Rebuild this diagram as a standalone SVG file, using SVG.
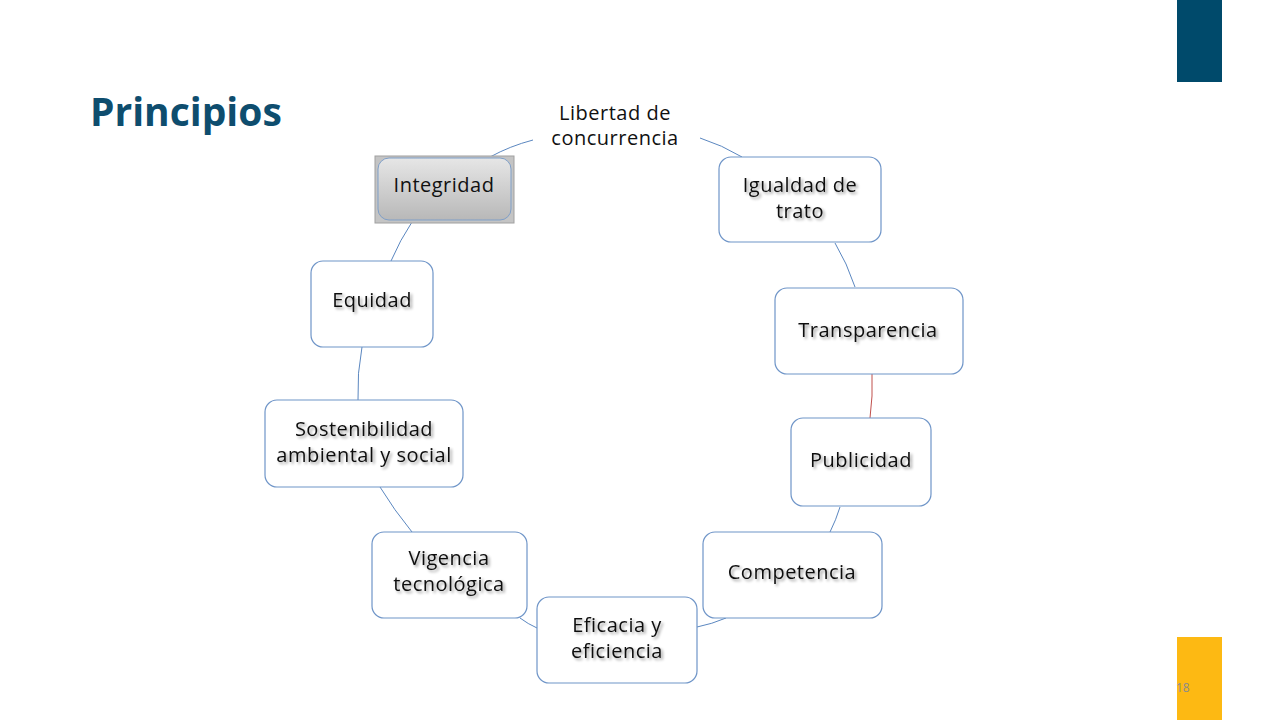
<svg xmlns="http://www.w3.org/2000/svg" width="1280" height="720" viewBox="0 0 1280 720">
<style>
.box{fill:#fff;stroke:#6F95C8;stroke-width:1.2}
.lbl{font-family:"Open Sans","Liberation Sans",sans-serif;font-size:20px;fill:#111;text-anchor:middle;letter-spacing:0.5px}
.sh{filter:url(#ts)}
.con{fill:none;stroke:#5B87C0;stroke-width:1}
</style>
<defs>
<filter id="ts" x="-20%" y="-40%" width="140%" height="180%">
<feGaussianBlur in="SourceAlpha" stdDeviation="1.4"/>
<feOffset dx="1.5" dy="2" result="b"/>
<feComponentTransfer><feFuncA type="linear" slope="0.4"/></feComponentTransfer>
<feMerge><feMergeNode/><feMergeNode in="SourceGraphic"/></feMerge>
</filter>
<linearGradient id="gg" x1="0" y1="0" x2="0" y2="1">
<stop offset="0" stop-color="#E6E6E6"/>
<stop offset="1" stop-color="#B8B8B8"/>
</linearGradient>
</defs>
<rect width="1280" height="720" fill="#fff"/>
<rect x="1177" y="0" width="45" height="82" fill="#004A6B"/>
<rect x="1177" y="637" width="45" height="83" fill="#FDB913"/>
<text x="1176" y="692" font-family="Open Sans,Liberation Sans,sans-serif" font-size="12" fill="#8C8C8C">18</text>
<text x="90" y="126" font-family="Open Sans,Liberation Sans,sans-serif" font-weight="bold" font-size="39" fill="#0E4D6E">Principios</text>
<g id="connectors">
<path class="con" d="M533,140 Q510,146 490,157"/>
<path class="con" d="M700,138 Q722,145 742,157"/>
<path class="con" d="M835,243 Q847,263 855,287"/>
<path d="M872,374 Q873,396 870,418" fill="none" stroke="#C0504D" stroke-width="1"/>
<path class="con" d="M840,507 Q836,520 830,532"/>
<path class="con" d="M726,618 Q712,624 697,627"/>
<path class="con" d="M537,628 Q528,624 520,618"/>
<path class="con" d="M412,532 Q394,510 380,487"/>
<path class="con" d="M358,400 Q357,373 362,347"/>
<path class="con" d="M391,261 Q400,240 412,222"/>
</g>
<g id="libertad">
<text class="lbl" x="615" y="120">Libertad de</text>
<text class="lbl" x="615" y="145">concurrencia</text>
</g>
<g id="integridad">
<rect x="375" y="156" width="139" height="67" fill="#C4C4C4" stroke="#A0A0A0" stroke-width="1"/>
<rect x="378" y="158" width="133" height="62" rx="11" fill="url(#gg)" stroke="#7F9FC8" stroke-width="1"/>
<text class="lbl" x="444" y="192">Integridad</text>
</g>
<g id="igualdad">
<rect class="box" x="719" y="157" width="162" height="85" rx="12"/>
<text class="lbl sh" x="800" y="192">Igualdad de</text>
<text class="lbl sh" x="800" y="218">trato</text>
</g>
<g id="transparencia">
<rect class="box" x="775" y="288" width="188" height="86" rx="12"/>
<text class="lbl sh" x="868" y="337">Transparencia</text>
</g>
<g id="publicidad">
<rect class="box" x="791" y="418" width="140" height="88" rx="12"/>
<text class="lbl sh" x="861" y="467">Publicidad</text>
</g>
<g id="competencia">
<rect class="box" x="703" y="532" width="179" height="86" rx="12"/>
<text class="lbl sh" x="792" y="579">Competencia</text>
</g>
<g id="eficacia">
<rect class="box" x="537" y="597" width="160" height="86" rx="12"/>
<text class="lbl sh" x="617" y="632">Eficacia y</text>
<text class="lbl sh" x="617" y="658">eficiencia</text>
</g>
<g id="vigencia">
<rect class="box" x="372" y="532" width="155" height="86" rx="12"/>
<text class="lbl sh" x="449" y="565">Vigencia</text>
<text class="lbl sh" x="449" y="591">tecnológica</text>
</g>
<g id="sostenibilidad">
<rect class="box" x="265" y="400" width="198" height="87" rx="12"/>
<text class="lbl sh" x="364" y="436">Sostenibilidad</text>
<text class="lbl sh" x="364" y="462">ambiental y social</text>
</g>
<g id="equidad">
<rect class="box" x="311" y="261" width="122" height="86" rx="12"/>
<text class="lbl sh" x="372" y="307">Equidad</text>
</g>
</svg>
